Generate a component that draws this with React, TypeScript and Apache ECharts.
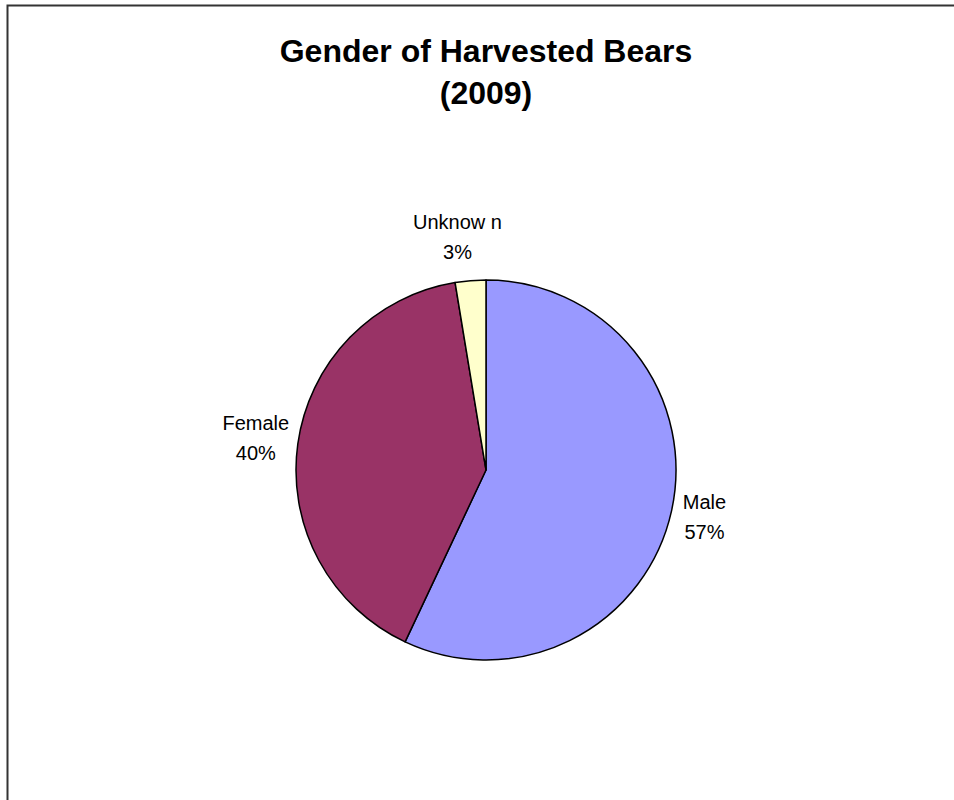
import React, { useEffect, useRef } from "react";
import * as echarts from "echarts";

const titleLines = ["Gender of Harvested Bears", "(2009)"];
const categories = ["Male", "Female", "Unknow n"];
const values = [57.0, 40.4, 2.6];
const sliceColors = ["#9999FF", "#993366", "#FFFFCC"];
// label nudges (dx, dy) relative to the library's outside-label anchor
const labelShiftX = [33, -42, -13];
const labelShiftY = [6, -6, -44];

const FONT = "'Liberation Sans', Arial, Helvetica, sans-serif";

export default function App() {
  const ref = useRef<HTMLDivElement>(null);

  useEffect(() => {
    if (!ref.current) return;
    const chart = echarts.init(ref.current, undefined, { renderer: "svg" });
    const option: any = {
      animation: false,
      backgroundColor: "#ffffff",
      graphic: [
        {
          type: "rect",
          z: 0,
          shape: { x: 7.5, y: 5.5, width: 1000, height: 1000 },
          style: { fill: "none", stroke: "#333333", lineWidth: 2 },
          silent: true,
        },
        {
          type: "text",
          x: 486,
          y: 72,
          style: {
            text: titleLines.join("\n"),
            fontFamily: FONT,
            fontSize: 32,
            fontWeight: "bold",
            lineHeight: 42,
            fill: "#000000",
            align: "center",
            verticalAlign: "middle",
          },
        },
      ],
      series: [
        {
          type: "pie",
          center: [486, 470],
          radius: 190,
          startAngle: 90,
          clockwise: true,
          avoidLabelOverlap: false,
          data: categories.map((name, i) => ({
            name,
            value: values[i],
            itemStyle: { color: sliceColors[i] },
          })),
          itemStyle: { borderColor: "#000000", borderWidth: 1.5 },
          label: {
            show: true,
            position: "outside",
            distanceToLabelLine: 0,
            formatter: (p: any) => `${p.name}\n${Math.round(p.percent)}%`,
            fontFamily: FONT,
            fontSize: 20,
            lineHeight: 30,
            color: "#000000",
          },
          labelLine: { show: false, length: 0, length2: 0 },
          labelLayout: (params: any) => ({
            align: "center",
            dx: labelShiftX[params.dataIndex],
            dy: labelShiftY[params.dataIndex],
          }),
          emphasis: { disabled: true },
        },
      ],
    };
    chart.setOption(option);
    return () => chart.dispose();
  }, []);

  return (
    <div
      ref={ref}
      style={{ position: "absolute", left: 0, top: 0, width: 954, height: 800 }}
    />
  );
}
